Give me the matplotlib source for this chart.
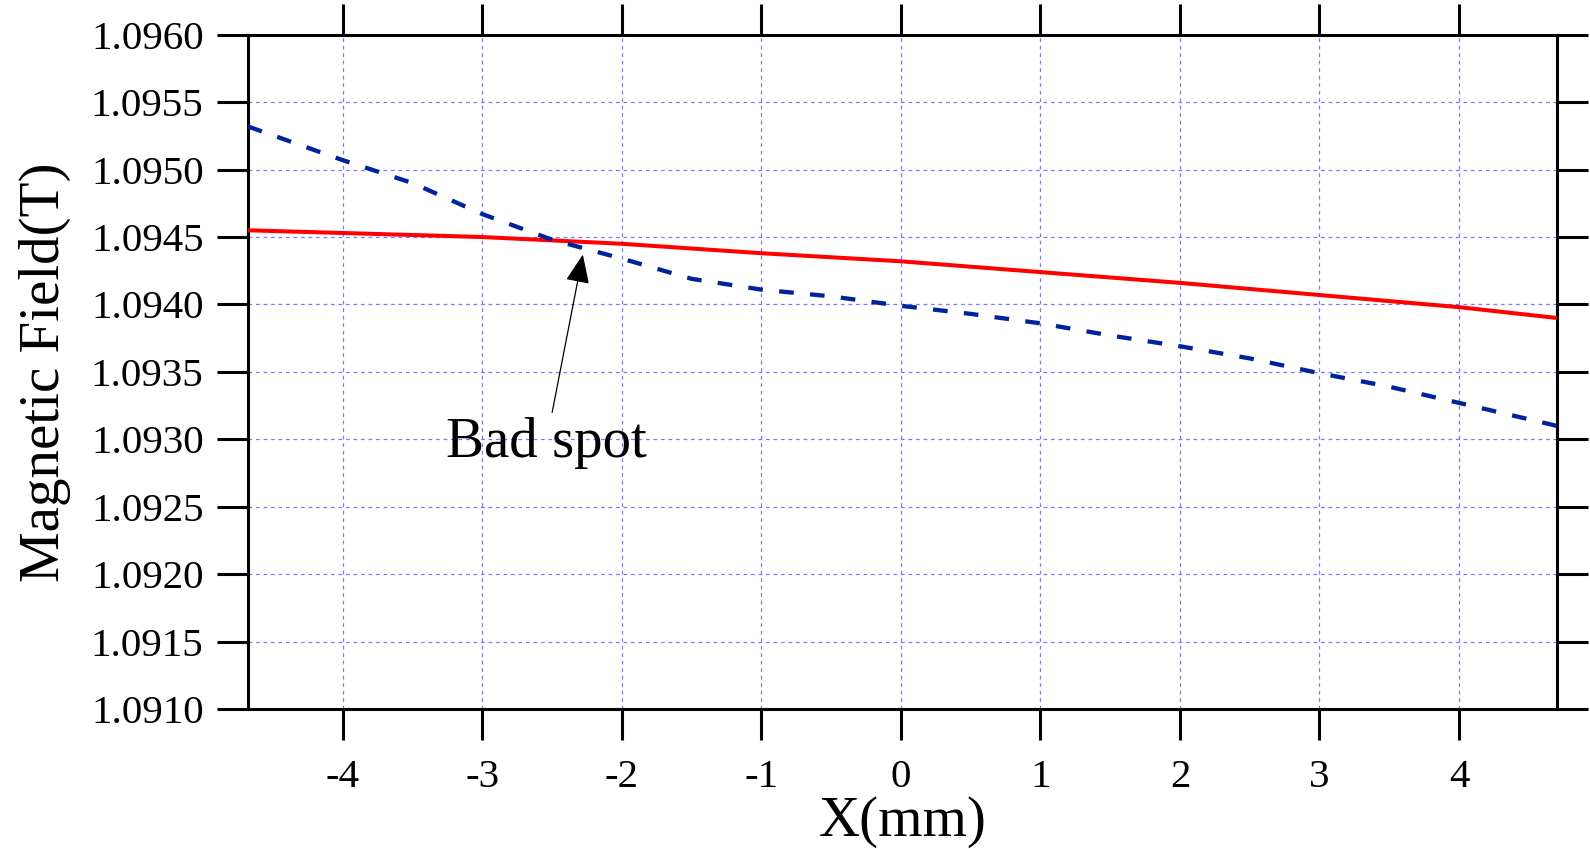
import matplotlib
matplotlib.use("Agg")
import matplotlib.pyplot as plt
import numpy as np

plt.rcParams['font.family'] = ['Liberation Serif', 'DejaVu Serif']
plt.rcParams['axes.unicode_minus'] = False

# field along x, measured in two conditions
x_red = [-4.68, -4.0, -3.0, -2.0, -1.0, 0.0, 1.0, 2.0, 3.0, 4.0, 4.7]
field_red = [1.09455, 1.09453, 1.09450, 1.09445, 1.09438, 1.09432,
             1.09424, 1.09416, 1.09407, 1.09398, 1.09390]

x_blue = [-4.68, -4.0, -3.5, -3.0, -2.5, -2.0, -1.5, -1.0, -0.5, 0.0,
          0.5, 1.0, 1.5, 2.0, 2.5, 3.0, 3.5, 4.0, 4.7]
field_blue = [1.09532, 1.09507, 1.09490, 1.09467, 1.09448, 1.09434,
              1.09419, 1.09411, 1.09406, 1.09399, 1.09393, 1.09386,
              1.09377, 1.09369, 1.09360, 1.09349, 1.09339, 1.09327,
              1.09310]

x_ticks = [-4, -3, -2, -1, 0, 1, 2, 3, 4]
y_ticks = np.arange(1.0910, 1.09601, 0.0005)

bad_spot_xy = (-2.28, 1.09437)
bad_spot_text_xy = (-2.545, 1.09287)

fig = plt.figure(figsize=(15.9, 8.49), dpi=100)
ax = fig.add_axes([0.156, 0.165, 0.823, 0.794])

ax.plot(x_red, field_red, color='#ff0000', lw=2.9, zorder=3)
ax.plot(x_blue, field_blue, color='#00239c', lw=3.1, dashes=(3.4, 3.8), zorder=4)

ax.set_xlim(-4.68, 4.7)
ax.set_ylim(1.0910, 1.0960)
ax.set_xticks(x_ticks)
ax.set_yticks(y_ticks)
ax.set_xticklabels([str(t) for t in x_ticks])
ax.set_yticklabels(['%.4f' % v for v in y_ticks])

ax.grid(True, color='#7a7aff', ls=(0, (3, 3)), lw=0.9)
ax.set_axisbelow(True)

for s in ax.spines.values():
    s.set_linewidth(2.2)
ax.tick_params(axis='both', direction='out', length=22, width=2.2,
               labelsize=29.5, top=True, right=True)
ax.tick_params(axis='x', pad=14)
ax.tick_params(axis='y', pad=10)

ax.set_xlabel('X(mm)', fontsize=41, labelpad=0)
ax.set_ylabel('Magnetic Field(T)', fontsize=41, labelpad=14)

ax.text(bad_spot_text_xy[0], bad_spot_text_xy[1], 'Bad spot', fontsize=41,
        ha='center', va='baseline')
ax.annotate('', xy=bad_spot_xy, xytext=(-2.50, 1.09320),
            arrowprops=dict(arrowstyle='-|>,head_length=0.6,head_width=0.25',
                            mutation_scale=30, lw=0.9, color='black',
                            shrinkA=0, shrinkB=0))

fig.savefig('out.png', dpi=100)
